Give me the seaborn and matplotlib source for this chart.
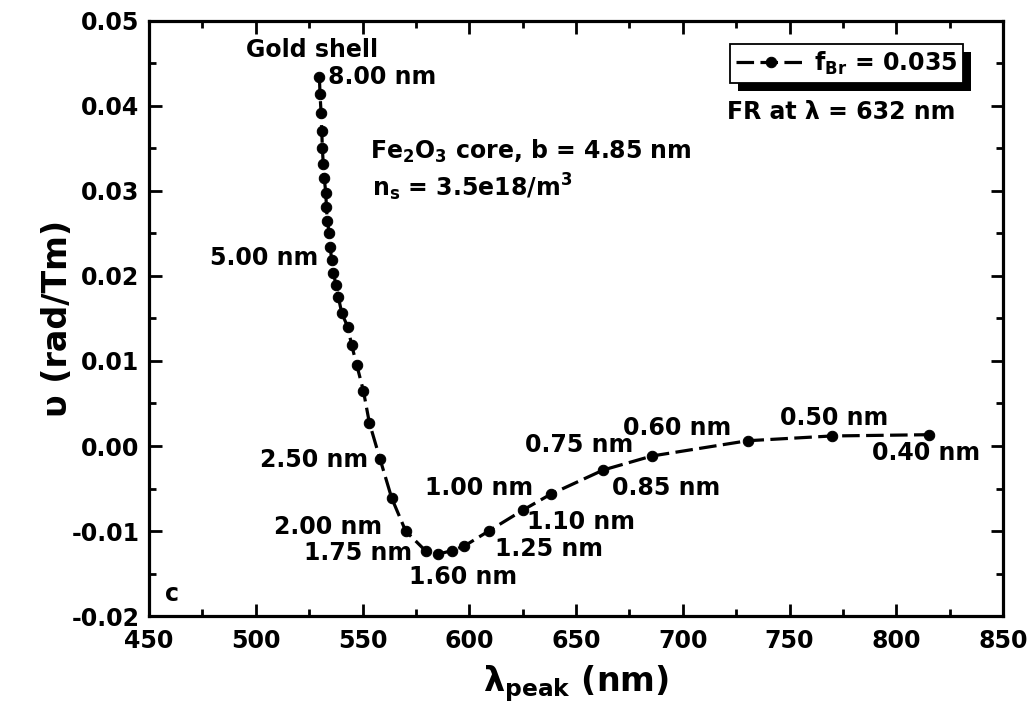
import numpy as np
import pandas as pd
import seaborn as sns
import matplotlib.pyplot as plt
from matplotlib.patches import Rectangle
from matplotlib.ticker import MultipleLocator

# shell thickness (nm), peak wavelength (nm), FR (rad/Tm)
shell = [8.00, 7.75, 7.50, 7.25, 7.00, 6.75, 6.50, 6.25, 6.00, 5.75, 5.50, 5.25, 5.00,
         4.75, 4.50, 4.25, 4.00, 3.75, 3.50, 3.25, 3.00, 2.75, 2.50, 2.25, 2.00,
         1.75, 1.60, 1.50, 1.40, 1.25, 1.10, 1.00, 0.85, 0.75, 0.60, 0.50, 0.40]
lam_peak = [529.8, 530.1, 530.6, 530.9, 531.2, 531.6, 532.1, 532.8, 533.1, 533.5, 534.4, 534.8, 535.6,
            536.3, 537.6, 538.7, 540.3, 543.1, 544.9, 547.3, 550.4, 553.2, 558.2, 563.7, 570.2,
            579.6, 585.5, 591.8, 597.7, 609.4, 625.2, 638.1, 662.8, 685.5, 730.4, 769.8, 815.5]
fr = [0.04338, 0.04138, 0.03914, 0.03706, 0.03509, 0.03314, 0.03149, 0.02973, 0.02808, 0.02651,
      0.02502, 0.02345, 0.02188, 0.02039, 0.01894, 0.01749, 0.01561, 0.01400, 0.01188, 0.00953,
      0.00651, 0.00274, -0.00153, -0.00615, -0.01000, -0.01235, -0.01271, -0.01232, -0.01176,
      -0.00996, -0.00753, -0.00568, -0.00282, -0.00118, 0.00062, 0.00118, 0.00133]

# point labels: text, x, y, horizontal alignment
labels = [('Gold shell', 495.4, 0.0466, 'left'),
          ('8.00 nm', 533.8, 0.0434, 'left'),
          ('5.00 nm', 529.2, 0.0221, 'right'),
          ('2.50 nm', 552.6, -0.00165, 'right'),
          ('2.00 nm', 559.1, -0.00955, 'right'),
          ('1.75 nm', 573.2, -0.01255, 'right'),
          ('1.60 nm', 597.1, -0.01541, 'center'),
          ('1.25 nm', 612.1, -0.01212, 'left'),
          ('1.10 nm', 627.0, -0.00894, 'left'),
          ('1.00 nm', 579.3, -0.00494, 'left'),
          ('0.85 nm', 666.9, -0.00494, 'left'),
          ('0.75 nm', 626.1, 0.00012, 'left'),
          ('0.60 nm', 672.0, 0.0021, 'left'),
          ('0.50 nm', 745.5, 0.0033, 'left'),
          ('0.40 nm', 788.6, -0.0008, 'left')]

df = pd.DataFrame({'shell': shell, 'lam': lam_peak, 'fr': fr})

sns.set_style('ticks')
plt.rcParams['font.family'] = ['DejaVu Sans']
plt.rcParams['font.weight'] = 'bold'
plt.rcParams['mathtext.default'] = 'bf'
for k in ['text.color', 'axes.labelcolor', 'xtick.color', 'ytick.color', 'axes.edgecolor']:
    plt.rcParams[k] = 'black'

fig = plt.figure(figsize=(10.32, 7.11), dpi=100)
ax = fig.add_axes([0.1444, 0.1336, 0.8275, 0.8369])

sns.lineplot(data=df, x='lam', y='fr', sort=False, ax=ax, color='black',
             linewidth=2.3, linestyle=(0, (5.5, 2)), marker='o', markersize=7.5,
             markeredgecolor='black', label=r'f$_{\mathbf{Br}}$ = 0.035')

ax.set_xlim(450, 850)
ax.set_ylim(-0.02, 0.05)
ax.xaxis.set_major_locator(MultipleLocator(50))
ax.xaxis.set_minor_locator(MultipleLocator(25))
ax.yaxis.set_major_locator(MultipleLocator(0.01))
ax.yaxis.set_minor_locator(MultipleLocator(0.005))
ax.yaxis.set_major_formatter(plt.FuncFormatter(lambda v, p: f'{v:.2f}'))
ax.tick_params(which='both', direction='in', top=True, right=True, width=2, labelsize=17)
ax.tick_params(which='major', length=9)
ax.tick_params(which='minor', length=5)
ax.tick_params(axis='x', pad=9)
ax.tick_params(axis='y', pad=7)
for s in ax.spines.values():
    s.set_linewidth(2.3)
    s.set_visible(True)

ax.set_xlabel(r'λ$_{\mathbf{peak}}$ (nm)', fontsize=24, fontweight='bold', labelpad=8)
ax.set_ylabel('υ (rad/Tm)', fontsize=24, fontweight='bold', labelpad=-2)

for txt, x, y, ha in labels:
    ax.text(x, y, txt, ha=ha, va='center', fontsize=17, fontweight='bold')

ax.text(553.5, 0.0346, r'Fe$_{\mathbf{2}}$O$_{\mathbf{3}}$ core, b = 4.85 nm', fontsize=17,
        fontweight='bold', va='center')
ax.text(554.4, 0.0304, r'n$_{\mathbf{s}}$ = 3.5e18/m$^{\mathbf{3}}$', fontsize=17,
        fontweight='bold', va='center')
ax.text(720.7, 0.0393, 'FR at λ = 632 nm', fontsize=17, fontweight='bold', va='center')
ax.text(457.5, -0.0174, 'c', fontsize=17, fontweight='bold', va='center')

leg = ax.legend(loc='upper right', bbox_to_anchor=(0.953, 0.962), borderaxespad=0,
                fancybox=False, framealpha=1, edgecolor='black', fontsize=17,
                handlelength=3, borderpad=0.25, handletextpad=0.3)
leg.get_frame().set_linewidth(1.3)
leg.set_zorder(6)

# solid black drop shadow behind the legend box
fig.canvas.draw()
bb = leg.get_window_extent().transformed(ax.transAxes.inverted())
dx = 8 / ax.bbox.width
dy = 8 / ax.bbox.height
ax.add_patch(Rectangle((bb.x0 + dx, bb.y0 - dy), bb.width, bb.height,
                       transform=ax.transAxes, facecolor='black', edgecolor='none',
                       zorder=5.5, clip_on=False))

fig.savefig('out.png', dpi=100)
